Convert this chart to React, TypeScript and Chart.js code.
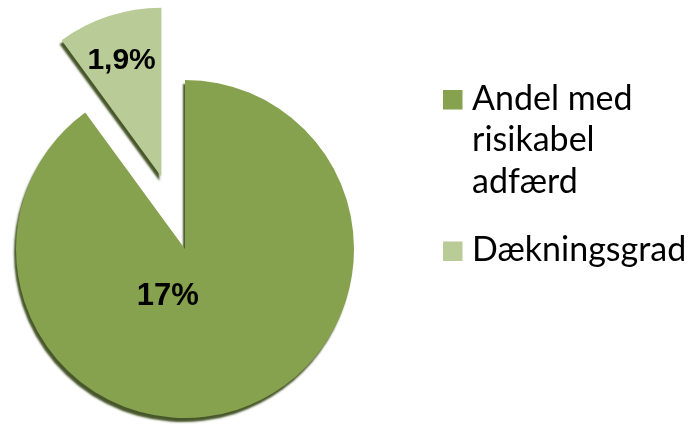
import React, { useEffect, useRef } from "react";
import { Chart, registerables } from "chart.js";

Chart.register(...registerables);

// ---- data ----
const categories = ["Andel med risikabel adfærd", "Dækningsgrad"];
const legendLines = [["Andel med", "risikabel", "adfærd"], ["Dækningsgrad"]];
const values = [17, 1.9];
const valueLabels = ["17%", "1,9%"];
const sliceColors = ["#86A24F", "#B9CC97"];

// ---- style ----
const EXPLODE = [0, 76];
const LABEL_POS = [
  { r: 0.3, shift: 38 },
  { r: 0.72, shift: 0 },
];

const piePlugin = {
  id: "piePlugin",
  afterDatasetsUpdate(chart: any) {
    const meta = chart.getDatasetMeta(0);
    meta.data.forEach((arc: any, i: number) => {
      const d = EXPLODE[i] || 0;
      if (!d) return;
      const mid = (arc.startAngle + arc.endAngle) / 2;
      arc.x += Math.cos(mid) * d;
      arc.y += Math.sin(mid) * d;
    });
  },
  beforeDatasetsDraw(chart: any) {
    const ctx = chart.ctx;
    ctx.save();
    ctx.shadowColor = "rgba(62,78,32,0.95)";
    ctx.shadowOffsetX = -2;
    ctx.shadowOffsetY = 4;
    ctx.shadowBlur = 2;
  },
  afterDatasetsDraw(chart: any) {
    const ctx = chart.ctx;
    ctx.restore();
    const meta = chart.getDatasetMeta(0);
    ctx.save();
    ctx.fillStyle = "#000";
    ctx.textAlign = "center";
    ctx.textBaseline = "middle";
    meta.data.forEach((arc: any, i: number) => {
      const lp = LABEL_POS[i];
      const mid = (arc.startAngle + arc.endAngle) / 2 + (lp.shift * Math.PI) / 180;
      const rr = arc.outerRadius * lp.r;
      ctx.font = `bold ${i === 0 ? 31 : 30}px "Liberation Sans", Arial, sans-serif`;
      ctx.fillText(valueLabels[i], arc.x + Math.cos(mid) * rr - (i === 1 ? 2 : 0), arc.y + Math.sin(mid) * rr);
    });
    ctx.restore();
  },
  afterDraw(chart: any) {
    const ctx = chart.ctx;
    ctx.save();
    ctx.font = `34px Lato, "Open Sans", sans-serif`;
    ctx.textAlign = "left";
    ctx.textBaseline = "alphabetic";
    const boxX = 443;
    const textX = 472;
    const lineH = 41.5;
    const starts = [109.5, 261];
    legendLines.forEach((lines, i) => {
      const base = starts[i];
      ctx.fillStyle = sliceColors[i];
      ctx.fillRect(boxX, base - 19.5, 19.5, 19.5);
      ctx.fillStyle = "#000";
      lines.forEach((t, j) => ctx.fillText(t, textX, base + j * lineH));
    });
    ctx.restore();
  },
};

export default function App() {
  const ref = useRef<HTMLCanvasElement | null>(null);
  useEffect(() => {
    if (!ref.current) return;
    const chart = new Chart(ref.current, {
      type: "pie",
      data: {
        labels: categories,
        datasets: [
          {
            data: values,
            backgroundColor: sliceColors,
            borderWidth: 0,
            clip: false as any,
          },
        ],
      },
      options: {
        animation: false,
        responsive: false,
        radius: 169,
        layout: { padding: { left: 0, right: 323, top: 71, bottom: 0 } },
        plugins: { legend: { display: false }, tooltip: { enabled: false } },
        events: [],
      } as any,
      plugins: [piePlugin],
    });
    return () => chart.destroy();
  }, []);
  return (
    <div style={{ position: "fixed", left: 0, top: 0, width: 693, height: 427, background: "#fff" }}>
      <canvas ref={ref} width={693} height={427} />
    </div>
  );
}
